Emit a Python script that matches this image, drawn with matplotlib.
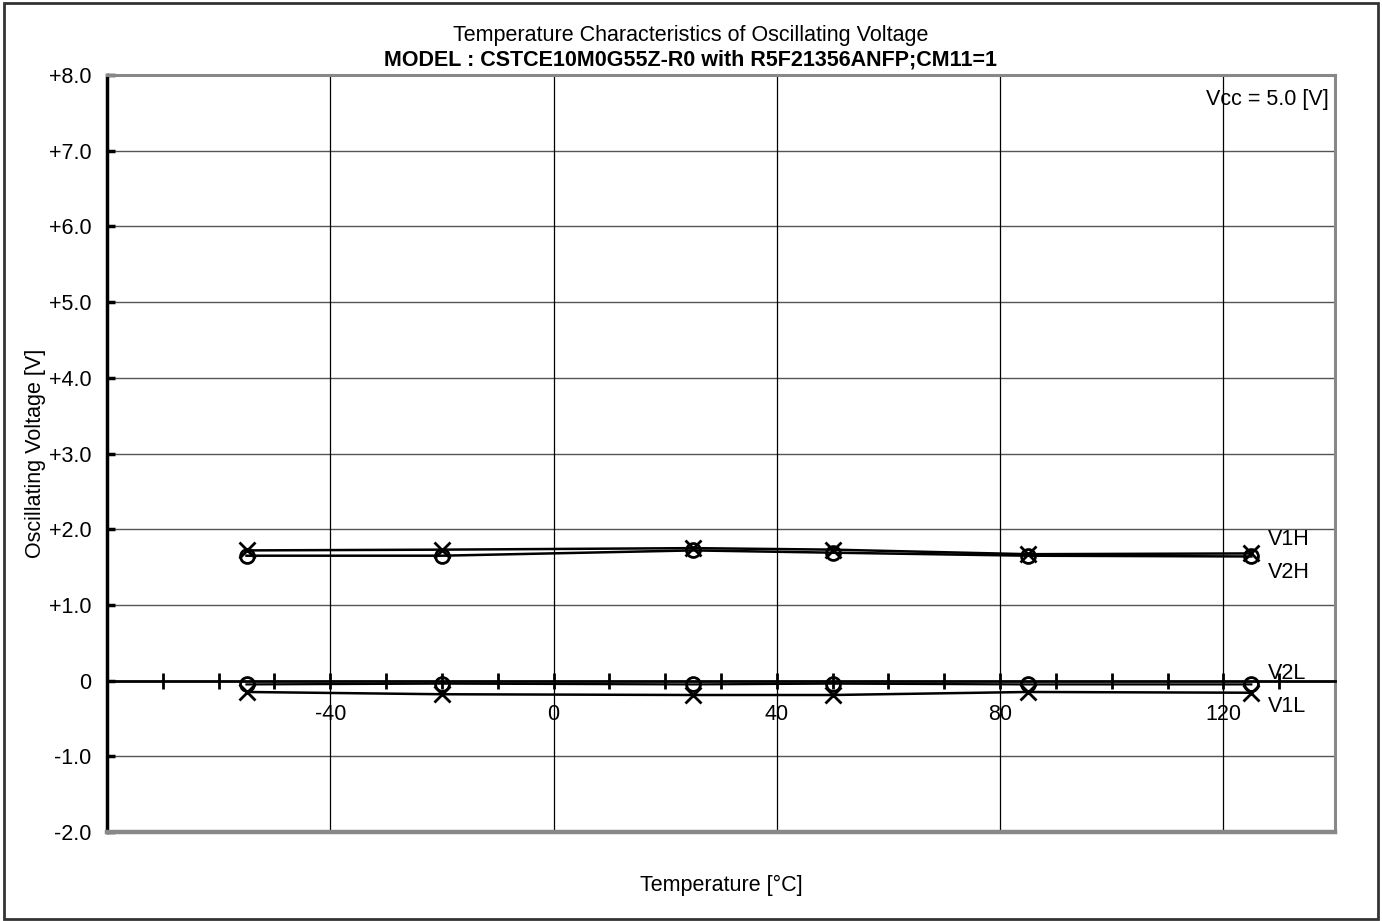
import numpy as np
import matplotlib.pyplot as plt
from matplotlib.patches import Rectangle
from matplotlib.ticker import MultipleLocator, FixedLocator

plt.rcParams['font.family'] = ['Liberation Sans', 'DejaVu Sans']

# measured points
temp = [-55, -20, 25, 50, 85, 125]
v1h = [1.72, 1.73, 1.75, 1.73, 1.67, 1.68]
v2h = [1.65, 1.65, 1.72, 1.69, 1.65, 1.64]
v2l = [-0.05, -0.04, -0.05, -0.04, -0.05, -0.05]
v1l = [-0.15, -0.18, -0.19, -0.19, -0.15, -0.16]

x_ticks = [-40, 0, 40, 80, 120]
y_ticks = [8, 7, 6, 5, 4, 3, 2, 1, 0, -1, -2]
y_labels = ['+8.0', '+7.0', '+6.0', '+5.0', '+4.0', '+3.0', '+2.0', '+1.0', '0', '-1.0', '-2.0']

FS = 15.5

fig = plt.figure(figsize=(13.82, 9.21), dpi=100)
ax = fig.add_axes([0.0774, 0.0966, 0.8886, 0.822])

ax.set_xlim(-80, 140)
ax.set_ylim(-2, 8)

# grid
for y in y_ticks:
    if y not in (0, 8, -2):
        ax.axhline(y, color='#555555', lw=1, zorder=1)
for x in x_ticks:
    ax.axvline(x, color='black', lw=0.9, zorder=1)

# frame
ax.spines['left'].set_linewidth(2.5)
ax.spines['left'].set_color('black')
for s in ('top', 'right'):
    ax.spines[s].set_color('#888888')
    ax.spines[s].set_linewidth(2.2)
ax.axhline(-2, color='#888888', lw=3.2, zorder=3, clip_on=False)

# x axis runs along the zero line
ax.spines['bottom'].set_position(('data', 0))
ax.spines['bottom'].set_linewidth(2)
ax.spines['bottom'].set_color('black')
ax.xaxis.set_major_locator(FixedLocator(x_ticks))
ax.xaxis.set_minor_locator(MultipleLocator(10))
ax.tick_params(axis='x', which='both', direction='inout', length=11, width=2,
               labelsize=FS, pad=11)
ax.set_xticklabels([str(t) for t in x_ticks])

ax.set_yticks(y_ticks)
ax.set_yticklabels(y_labels)
ax.tick_params(axis='y', direction='in', length=6, width=2.5, labelsize=FS, pad=11)

ax.plot(temp, v1h, color='black', lw=1.8, marker='x', ms=11, mew=2, zorder=5)
ax.plot(temp, v2h, color='black', lw=1.8, marker='o', ms=10, mew=2, mfc='none', zorder=5)
ax.plot(temp, v2l, color='black', lw=1.6, marker='o', ms=10, mew=2, mfc='none', zorder=5)
ax.plot(temp, v1l, color='black', lw=1.8, marker='x', ms=11, mew=2, zorder=5)

# series names at the right end
for name, yv, dy in (('V1H', v1h[-1], 0.19), ('V2H', v2h[-1], -0.21),
                     ('V2L', v2l[-1], 0.14), ('V1L', v1l[-1], -0.18)):
    ax.text(128, yv + dy, name, fontsize=FS, va='center', ha='left', zorder=2)

ax.text(0.995, 0.982, 'Vcc = 5.0 [V]', transform=ax.transAxes, ha='right', va='top',
        fontsize=FS)

fig.text(0.5, 0.961, 'Temperature Characteristics of Oscillating Voltage',
         ha='center', va='center', fontsize=FS)
fig.text(0.5, 0.935, 'MODEL : CSTCE10M0G55Z-R0 with R5F21356ANFP;CM11=1',
         ha='center', va='center', fontsize=FS, fontweight='bold')

ax.set_ylabel('Oscillating Voltage [V]', fontsize=FS)
ax.yaxis.set_label_coords(-0.0497, 0.5)
fig.text(0.522, 0.039, 'Temperature [°C]', ha='center', va='center', fontsize=FS)

fig.patches.append(Rectangle((0.003, 0.002), 0.994, 0.995, transform=fig.transFigure,
                             fill=False, edgecolor='#333333', lw=2))

fig.savefig('out.png', dpi=100)
